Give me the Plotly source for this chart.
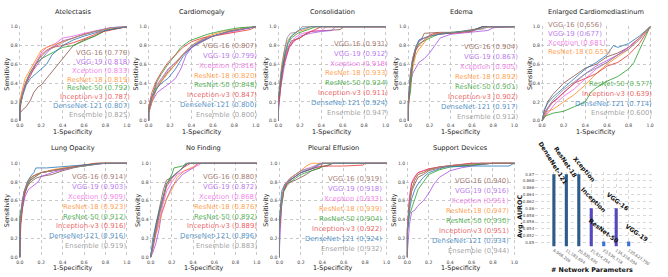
import plotly.graph_objects as go

W, H = 668, 277

MODELS = ["VGG-16", "VGG-19", "Xception", "ResNet-18", "ResNet-50", "Inception-v3", "DenseNet-121", "Ensemble"]
COLORS = ["#8c564b", "#a855e8", "#f062e6", "#ff8a1e", "#2ca02c", "#e8383a", "#2a78b8", "#8a8a8a"]

DISEASES = ["Atelectasis", "Cardiomegaly", "Consolidation", "Edema", "Enlarged Cardiomediastinum",
            "Lung Opacity", "No Finding", "Pleural Effusion", "Support Devices"]

AUC_ATELECTASIS = [0.776, 0.818, 0.833, 0.819, 0.792, 0.787, 0.807, 0.825]
AUC_CARDIOMEGALY = [0.807, 0.799, 0.816, 0.820, 0.848, 0.847, 0.800, 0.800]
AUC_CONSOLIDATION = [0.931, 0.912, 0.918, 0.933, 0.924, 0.911, 0.924, 0.947]
AUC_EDEMA = [0.904, 0.867, 0.905, 0.892, 0.901, 0.902, 0.917, 0.912]
AUC_ENLARGED = [0.656, 0.677, 0.681, 0.655, 0.577, 0.639, 0.714, 0.600]
AUC_LUNG_OPACITY = [0.914, 0.903, 0.909, 0.923, 0.912, 0.916, 0.916, 0.919]
AUC_NO_FINDING = [0.880, 0.872, 0.868, 0.876, 0.892, 0.889, 0.896, 0.883]
AUC_PLEURAL = [0.919, 0.918, 0.933, 0.939, 0.904, 0.922, 0.924, 0.932]
AUC_SUPPORT = [0.940, 0.916, 0.951, 0.947, 0.930, 0.951, 0.934, 0.944]

ROC_ATELECTASIS = {
    "VGG-16": ([0, 0, 0.03, 0.06, 0.1, 0.13, 0.17, 0.2, 0.25, 0.3, 0.35, 0.42, 0.5, 0.6, 0.7, 0.8, 1],
               [0, 0.08, 0.12, 0.15, 0.22, 0.3, 0.36, 0.38, 0.45, 0.52, 0.58, 0.68, 0.8, 0.86, 0.9, 0.96, 1]),
    "VGG-19": ([0, 0, 0.03, 0.06, 0.1, 0.15, 0.2, 0.25, 0.3, 0.4, 0.5, 0.6, 0.75, 0.85, 1],
               [0, 0.15, 0.3, 0.4, 0.5, 0.58, 0.65, 0.72, 0.78, 0.85, 0.88, 0.92, 0.96, 0.99, 1]),
    "Xception": ([0, 0, 0.02, 0.05, 0.1, 0.15, 0.2, 0.25, 0.33, 0.4, 0.5, 0.6, 0.72, 0.85, 1],
                 [0, 0.2, 0.3, 0.4, 0.52, 0.62, 0.72, 0.78, 0.82, 0.88, 0.9, 0.93, 0.96, 0.99, 1]),
    "ResNet-18": ([0, 0, 0.02, 0.05, 0.1, 0.15, 0.2, 0.25, 0.35, 0.45, 0.55, 0.7, 0.85, 1],
                  [0, 0.2, 0.32, 0.45, 0.55, 0.65, 0.75, 0.78, 0.82, 0.86, 0.9, 0.95, 0.98, 1]),
    "ResNet-50": ([0, 0, 0.03, 0.06, 0.1, 0.15, 0.2, 0.3, 0.4, 0.5, 0.6, 0.7, 0.8, 1],
                  [0, 0.18, 0.3, 0.42, 0.52, 0.6, 0.66, 0.72, 0.78, 0.8, 0.85, 0.9, 0.96, 1]),
    "Inception-v3": ([0, 0, 0.02, 0.05, 0.1, 0.15, 0.2, 0.25, 0.3, 0.4, 0.5, 0.6, 0.75, 1],
                     [0, 0.1, 0.25, 0.38, 0.48, 0.6, 0.7, 0.75, 0.78, 0.8, 0.83, 0.87, 0.94, 1]),
    "DenseNet-121": ([0, 0, 0.03, 0.06, 0.1, 0.15, 0.2, 0.25, 0.3, 0.4, 0.5, 0.6, 0.75, 0.9, 1],
                     [0, 0.15, 0.28, 0.38, 0.45, 0.5, 0.55, 0.6, 0.7, 0.8, 0.86, 0.9, 0.95, 0.98, 1]),
    "Ensemble": ([0, 0, 0.03, 0.07, 0.12, 0.18, 0.25, 0.35, 0.45, 0.55, 0.7, 0.85, 1],
                 [0, 0.15, 0.3, 0.45, 0.55, 0.66, 0.74, 0.8, 0.86, 0.9, 0.95, 0.99, 1]),
}

ROC_CARDIOMEGALY = {
    "VGG-16": ([0, 0, 0.03, 0.07, 0.12, 0.18, 0.25, 0.32, 0.4, 0.5, 0.6, 0.75, 0.9, 1],
               [0, 0.1, 0.2, 0.33, 0.42, 0.52, 0.6, 0.7, 0.78, 0.84, 0.9, 0.95, 0.98, 1]),
    "VGG-19": ([0, 0, 0.03, 0.08, 0.15, 0.2, 0.25, 0.3, 0.35, 0.42, 0.5, 0.6, 0.75, 0.9, 1],
               [0, 0.08, 0.2, 0.3, 0.36, 0.4, 0.45, 0.55, 0.7, 0.8, 0.86, 0.9, 0.95, 0.98, 1]),
    "Xception": ([0, 0, 0.03, 0.07, 0.12, 0.18, 0.25, 0.32, 0.4, 0.5, 0.6, 0.75, 0.9, 1],
                 [0, 0.12, 0.25, 0.38, 0.45, 0.55, 0.62, 0.7, 0.78, 0.85, 0.9, 0.94, 0.98, 1]),
    "ResNet-18": ([0, 0, 0.03, 0.07, 0.12, 0.18, 0.25, 0.3, 0.38, 0.45, 0.55, 0.7, 0.85, 1],
                  [0, 0.08, 0.2, 0.35, 0.42, 0.5, 0.6, 0.68, 0.78, 0.84, 0.9, 0.95, 0.98, 1]),
    "ResNet-50": ([0, 0, 0.03, 0.07, 0.12, 0.18, 0.25, 0.3, 0.38, 0.45, 0.55, 0.7, 0.85, 1],
                  [0, 0.12, 0.25, 0.4, 0.5, 0.6, 0.7, 0.78, 0.85, 0.88, 0.92, 0.96, 0.99, 1]),
    "Inception-v3": ([0, 0, 0.03, 0.07, 0.12, 0.18, 0.25, 0.32, 0.4, 0.5, 0.6, 0.7, 0.8, 0.95, 1],
                     [0, 0.15, 0.3, 0.42, 0.52, 0.62, 0.7, 0.78, 0.84, 0.88, 0.9, 0.92, 0.94, 0.97, 1]),
    "DenseNet-121": ([0, 0, 0.03, 0.08, 0.12, 0.18, 0.25, 0.32, 0.4, 0.5, 0.6, 0.75, 0.9, 1],
                     [0, 0.1, 0.25, 0.35, 0.4, 0.45, 0.55, 0.68, 0.78, 0.85, 0.9, 0.95, 0.98, 1]),
    "Ensemble": ([0, 0, 0.03, 0.07, 0.12, 0.18, 0.25, 0.32, 0.4, 0.5, 0.6, 0.75, 0.9, 1],
                 [0, 0.12, 0.24, 0.36, 0.44, 0.54, 0.62, 0.7, 0.8, 0.86, 0.9, 0.95, 0.98, 1]),
}

ROC_CONSOLIDATION = {
    "VGG-16": ([0, 0, 0.02, 0.04, 0.06, 0.08, 0.12, 0.2, 0.25, 0.3, 0.45, 0.58, 0.6, 1],
               [0, 0.2, 0.45, 0.6, 0.68, 0.75, 0.85, 0.88, 0.92, 0.95, 0.96, 0.97, 1, 1]),
    "VGG-19": ([0, 0, 0.02, 0.04, 0.06, 0.1, 0.15, 0.2, 0.3, 0.4, 0.5, 0.53, 1],
               [0, 0.1, 0.35, 0.5, 0.62, 0.78, 0.85, 0.9, 0.93, 0.95, 0.96, 1, 1]),
    "Xception": ([0, 0, 0.02, 0.04, 0.07, 0.1, 0.15, 0.2, 0.3, 0.4, 0.45, 1],
                 [0, 0.15, 0.4, 0.55, 0.7, 0.8, 0.88, 0.92, 0.95, 0.96, 1, 1]),
    "ResNet-18": ([0, 0, 0.02, 0.03, 0.05, 0.08, 0.12, 0.18, 0.25, 0.3, 1],
                  [0, 0.2, 0.45, 0.6, 0.72, 0.85, 0.9, 0.95, 0.97, 1, 1]),
    "ResNet-50": ([0, 0, 0.02, 0.04, 0.06, 0.09, 0.12, 0.18, 0.25, 0.35, 1],
                  [0, 0.2, 0.4, 0.58, 0.7, 0.82, 0.88, 0.93, 0.96, 1, 1]),
    "Inception-v3": ([0, 0, 0.02, 0.04, 0.07, 0.1, 0.14, 0.2, 0.25, 0.33, 0.4, 1],
                     [0, 0.15, 0.35, 0.55, 0.68, 0.78, 0.85, 0.88, 0.92, 0.96, 1, 1]),
    "DenseNet-121": ([0, 0, 0.02, 0.04, 0.06, 0.09, 0.12, 0.2, 0.3, 1],
                     [0, 0.25, 0.45, 0.6, 0.72, 0.84, 0.9, 0.97, 1, 1]),
    "Ensemble": ([0, 0, 0.02, 0.04, 0.06, 0.08, 0.11, 0.16, 0.2, 0.22, 1],
                 [0, 0.25, 0.5, 0.65, 0.78, 0.88, 0.93, 0.94, 0.97, 1, 1]),
}

ROC_EDEMA = {
    "VGG-16": ([0, 0, 0.02, 0.04, 0.07, 0.1, 0.13, 0.15, 0.3, 0.45, 0.6, 0.7, 0.72, 1],
               [0, 0.2, 0.5, 0.65, 0.78, 0.85, 0.88, 0.93, 0.94, 0.94, 0.97, 0.98, 1, 1]),
    "VGG-19": ([0, 0, 0.02, 0.04, 0.07, 0.1, 0.15, 0.2, 0.25, 0.3, 0.4, 0.6, 0.75, 0.8, 1],
               [0, 0.15, 0.4, 0.5, 0.56, 0.62, 0.66, 0.72, 0.8, 0.88, 0.92, 0.94, 0.96, 0.99, 1]),
    "Xception": ([0, 0, 0.02, 0.04, 0.07, 0.1, 0.15, 0.2, 0.3, 0.45, 0.6, 0.7, 1],
                 [0, 0.2, 0.45, 0.62, 0.75, 0.85, 0.88, 0.9, 0.92, 0.94, 0.96, 1, 1]),
    "ResNet-18": ([0, 0, 0.02, 0.04, 0.07, 0.1, 0.13, 0.18, 0.25, 0.4, 0.6, 0.7, 1],
                  [0, 0.1, 0.4, 0.55, 0.7, 0.76, 0.8, 0.88, 0.92, 0.93, 0.96, 1, 1]),
    "ResNet-50": ([0, 0, 0.02, 0.04, 0.07, 0.1, 0.15, 0.2, 0.28, 0.4, 0.6, 0.7, 1],
                  [0, 0.2, 0.3, 0.6, 0.75, 0.82, 0.85, 0.88, 0.92, 0.94, 0.96, 1, 1]),
    "Inception-v3": ([0, 0, 0.02, 0.04, 0.07, 0.1, 0.15, 0.2, 0.25, 0.4, 0.6, 0.7, 1],
                     [0, 0.15, 0.45, 0.62, 0.75, 0.8, 0.86, 0.91, 0.93, 0.93, 0.95, 1, 1]),
    "DenseNet-121": ([0, 0, 0.02, 0.04, 0.07, 0.1, 0.15, 0.2, 0.3, 0.45, 0.6, 0.7, 1],
                     [0, 0.2, 0.5, 0.65, 0.78, 0.86, 0.88, 0.9, 0.92, 0.94, 0.96, 1, 1]),
    "Ensemble": ([0, 0, 0.02, 0.04, 0.07, 0.1, 0.15, 0.2, 0.3, 0.45, 0.6, 0.72, 0.75, 1],
                 [0, 0.2, 0.5, 0.66, 0.78, 0.84, 0.88, 0.9, 0.93, 0.94, 0.96, 0.98, 1, 1]),
}

ROC_ENLARGED = {
    "VGG-16": ([0, 0.02, 0.05, 0.1, 0.15, 0.2, 0.3, 0.4, 0.5, 0.6, 0.7, 0.8, 0.9, 1],
               [0, 0.1, 0.2, 0.28, 0.34, 0.4, 0.48, 0.56, 0.6, 0.68, 0.72, 0.78, 0.88, 1]),
    "VGG-19": ([0, 0.02, 0.05, 0.1, 0.2, 0.3, 0.4, 0.5, 0.6, 0.7, 0.8, 0.9, 1],
               [0, 0.05, 0.12, 0.2, 0.3, 0.4, 0.5, 0.58, 0.64, 0.7, 0.78, 0.88, 1]),
    "Xception": ([0, 0.03, 0.08, 0.12, 0.2, 0.3, 0.4, 0.5, 0.6, 0.7, 0.8, 0.9, 1],
                 [0, 0.05, 0.12, 0.18, 0.26, 0.34, 0.45, 0.55, 0.62, 0.7, 0.78, 0.88, 1]),
    "ResNet-18": ([0, 0.03, 0.05, 0.1, 0.2, 0.3, 0.4, 0.5, 0.6, 0.7, 0.8, 0.9, 1],
                  [0, 0.05, 0.1, 0.12, 0.2, 0.28, 0.38, 0.5, 0.6, 0.68, 0.76, 0.88, 1]),
    "ResNet-50": ([0, 0.03, 0.1, 0.2, 0.3, 0.4, 0.45, 0.5, 0.6, 0.7, 0.8, 0.85, 0.9, 1],
                  [0, 0.05, 0.08, 0.1, 0.15, 0.2, 0.3, 0.35, 0.42, 0.47, 0.55, 0.62, 0.75, 1]),
    "Inception-v3": ([0, 0.03, 0.08, 0.15, 0.2, 0.3, 0.4, 0.5, 0.6, 0.7, 0.8, 0.9, 1],
                     [0, 0.1, 0.18, 0.24, 0.3, 0.4, 0.45, 0.5, 0.58, 0.62, 0.7, 0.82, 1]),
    "DenseNet-121": ([0, 0.02, 0.06, 0.1, 0.2, 0.3, 0.4, 0.5, 0.6, 0.66, 0.7, 0.8, 0.9, 1],
                     [0, 0.12, 0.2, 0.25, 0.35, 0.45, 0.55, 0.62, 0.7, 0.8, 0.78, 0.82, 0.9, 1]),
    "Ensemble": ([0, 0.02, 0.06, 0.1, 0.2, 0.3, 0.4, 0.5, 0.6, 0.7, 0.8, 0.9, 1],
                 [0, 0.08, 0.15, 0.22, 0.33, 0.42, 0.5, 0.56, 0.62, 0.7, 0.76, 0.86, 1]),
}

ROC_LUNG_OPACITY = {
    "VGG-16": ([0, 0, 0.02, 0.04, 0.07, 0.1, 0.15, 0.2, 0.3, 0.4, 0.5, 0.6, 0.72, 1],
               [0, 0.3, 0.5, 0.65, 0.75, 0.8, 0.84, 0.86, 0.88, 0.92, 0.95, 0.98, 1, 1]),
    "VGG-19": ([0, 0, 0.02, 0.05, 0.08, 0.12, 0.17, 0.2, 0.3, 0.4, 0.5, 0.65, 0.8, 1],
               [0, 0.3, 0.5, 0.65, 0.72, 0.76, 0.8, 0.86, 0.9, 0.93, 0.96, 0.98, 1, 1]),
    "Xception": ([0, 0, 0.02, 0.04, 0.07, 0.1, 0.15, 0.2, 0.3, 0.45, 0.6, 0.75, 1],
                 [0, 0.35, 0.6, 0.7, 0.78, 0.82, 0.86, 0.9, 0.92, 0.95, 0.97, 1, 1]),
    "ResNet-18": ([0, 0, 0.02, 0.04, 0.07, 0.1, 0.15, 0.2, 0.3, 0.45, 0.6, 0.7, 1],
                  [0, 0.3, 0.52, 0.68, 0.8, 0.85, 0.88, 0.9, 0.93, 0.96, 0.98, 1, 1]),
    "ResNet-50": ([0, 0, 0.02, 0.04, 0.07, 0.1, 0.15, 0.2, 0.3, 0.45, 0.6, 0.75, 1],
                  [0, 0.45, 0.55, 0.68, 0.76, 0.82, 0.86, 0.9, 0.92, 0.95, 0.97, 1, 1]),
    "Inception-v3": ([0, 0, 0.01, 0.03, 0.05, 0.08, 0.12, 0.2, 0.3, 0.45, 0.6, 0.75, 1],
                     [0, 0.1, 0.35, 0.58, 0.7, 0.8, 0.86, 0.9, 0.92, 0.95, 0.98, 1, 1]),
    "DenseNet-121": ([0, 0, 0.02, 0.04, 0.07, 0.1, 0.13, 0.15, 0.25, 0.35, 0.5, 0.65, 0.8, 1],
                     [0, 0.35, 0.55, 0.7, 0.8, 0.86, 0.9, 0.95, 0.95, 0.96, 0.97, 0.99, 1, 1]),
    "Ensemble": ([0, 0, 0.02, 0.04, 0.07, 0.1, 0.15, 0.2, 0.3, 0.45, 0.6, 0.8, 1],
                 [0, 0.35, 0.55, 0.7, 0.78, 0.84, 0.88, 0.9, 0.92, 0.95, 0.97, 1, 1]),
}

ROC_NO_FINDING = {
    "VGG-16": ([0, 0.02, 0.05, 0.08, 0.12, 0.15, 0.2, 0.25, 0.3, 0.35, 1],
               [0, 0.12, 0.35, 0.52, 0.72, 0.82, 0.85, 0.9, 0.95, 1, 1]),
    "VGG-19": ([0, 0.02, 0.05, 0.08, 0.1, 0.15, 0.2, 0.25, 0.3, 0.4, 0.45, 1],
               [0, 0.05, 0.15, 0.3, 0.45, 0.62, 0.75, 0.82, 0.88, 0.95, 1, 1]),
    "Xception": ([0, 0.02, 0.05, 0.08, 0.12, 0.15, 0.2, 0.25, 0.32, 0.4, 0.48, 1],
                 [0, 0.08, 0.25, 0.4, 0.58, 0.7, 0.8, 0.88, 0.92, 0.95, 1, 1]),
    "ResNet-18": ([0, 0.02, 0.05, 0.08, 0.1, 0.15, 0.2, 0.25, 0.32, 0.4, 0.45, 1],
                  [0, 0.1, 0.25, 0.35, 0.45, 0.62, 0.72, 0.85, 0.92, 0.96, 1, 1]),
    "ResNet-50": ([0, 0.02, 0.05, 0.08, 0.12, 0.15, 0.2, 0.22, 0.3, 0.35, 1],
                  [0, 0.12, 0.3, 0.48, 0.65, 0.78, 0.88, 0.95, 0.97, 1, 1]),
    "Inception-v3": ([0, 0.02, 0.05, 0.08, 0.12, 0.15, 0.2, 0.25, 0.3, 0.38, 1],
                     [0, 0.1, 0.28, 0.45, 0.62, 0.75, 0.84, 0.9, 0.95, 1, 1]),
    "DenseNet-121": ([0, 0.02, 0.05, 0.08, 0.12, 0.15, 0.2, 0.25, 0.3, 0.35, 1],
                     [0, 0.2, 0.35, 0.48, 0.65, 0.78, 0.85, 0.9, 0.96, 1, 1]),
    "Ensemble": ([0, 0.02, 0.05, 0.08, 0.12, 0.15, 0.2, 0.25, 0.3, 0.33, 1],
                 [0, 0.1, 0.3, 0.45, 0.65, 0.78, 0.85, 0.9, 0.95, 1, 1]),
}

ROC_PLEURAL = {
    "VGG-16": ([0, 0, 0.02, 0.04, 0.07, 0.1, 0.15, 0.2, 0.25, 0.3, 0.38, 0.4, 1],
               [0, 0.4, 0.62, 0.72, 0.78, 0.8, 0.82, 0.85, 0.88, 0.92, 0.95, 1, 1]),
    "VGG-19": ([0, 0, 0.02, 0.04, 0.07, 0.1, 0.15, 0.2, 0.3, 0.35, 0.45, 0.5, 1],
               [0, 0.1, 0.55, 0.7, 0.78, 0.82, 0.86, 0.9, 0.94, 0.96, 0.97, 1, 1]),
    "Xception": ([0, 0, 0.02, 0.04, 0.07, 0.1, 0.15, 0.2, 0.3, 0.4, 1],
                 [0, 0.3, 0.6, 0.72, 0.8, 0.84, 0.88, 0.92, 0.96, 1, 1]),
    "ResNet-18": ([0, 0, 0.02, 0.04, 0.07, 0.1, 0.15, 0.2, 0.25, 0.3, 1],
                  [0, 0.35, 0.6, 0.75, 0.8, 0.84, 0.88, 0.92, 0.97, 1, 1]),
    "ResNet-50": ([0, 0, 0.02, 0.04, 0.07, 0.1, 0.15, 0.2, 0.3, 0.4, 0.5, 1],
                  [0, 0.3, 0.55, 0.7, 0.76, 0.8, 0.84, 0.88, 0.92, 0.96, 1, 1]),
    "Inception-v3": ([0, 0, 0.02, 0.04, 0.07, 0.1, 0.15, 0.2, 0.3, 0.4, 0.6, 0.78, 0.8, 1],
                     [0, 0.3, 0.6, 0.72, 0.78, 0.82, 0.86, 0.9, 0.94, 0.97, 0.97, 0.98, 1, 1]),
    "DenseNet-121": ([0, 0, 0.02, 0.05, 0.07, 0.1, 0.15, 0.2, 0.3, 0.4, 1],
                     [0, 0.4, 0.7, 0.78, 0.8, 0.82, 0.86, 0.9, 0.94, 1, 1]),
    "Ensemble": ([0, 0, 0.02, 0.04, 0.07, 0.1, 0.15, 0.2, 0.3, 0.38, 1],
                 [0, 0.35, 0.6, 0.74, 0.8, 0.84, 0.88, 0.92, 0.95, 1, 1]),
}

ROC_SUPPORT = {
    "VGG-16": ([0, 0, 0.02, 0.04, 0.07, 0.1, 0.15, 0.2, 0.3, 0.4, 0.6, 0.8, 1],
               [0, 0.3, 0.55, 0.7, 0.78, 0.85, 0.88, 0.92, 0.95, 0.97, 0.98, 1, 1]),
    "VGG-19": ([0, 0, 0.02, 0.04, 0.07, 0.1, 0.15, 0.2, 0.25, 0.3, 0.4, 0.5, 0.65, 0.8, 1],
               [0, 0.05, 0.35, 0.48, 0.5, 0.55, 0.6, 0.68, 0.78, 0.85, 0.92, 0.95, 0.98, 1, 1]),
    "Xception": ([0, 0, 0.02, 0.04, 0.07, 0.1, 0.15, 0.2, 0.3, 0.45, 0.6, 1],
                 [0, 0.3, 0.65, 0.8, 0.86, 0.9, 0.92, 0.94, 0.96, 0.98, 1, 1]),
    "ResNet-18": ([0, 0, 0.02, 0.04, 0.07, 0.1, 0.15, 0.2, 0.3, 0.45, 0.7, 1],
                  [0, 0.3, 0.6, 0.72, 0.82, 0.88, 0.9, 0.93, 0.96, 0.98, 1, 1]),
    "ResNet-50": ([0, 0, 0.02, 0.05, 0.08, 0.1, 0.15, 0.2, 0.3, 0.4, 0.6, 0.8, 1],
                  [0, 0.25, 0.45, 0.55, 0.65, 0.72, 0.8, 0.88, 0.93, 0.96, 0.98, 1, 1]),
    "Inception-v3": ([0, 0, 0.02, 0.04, 0.07, 0.1, 0.15, 0.2, 0.3, 0.45, 0.6, 1],
                     [0, 0.3, 0.62, 0.78, 0.85, 0.9, 0.92, 0.94, 0.96, 0.98, 1, 1]),
    "DenseNet-121": ([0, 0, 0.02, 0.04, 0.07, 0.1, 0.15, 0.2, 0.35, 0.6, 0.95, 1],
                     [0, 0.25, 0.5, 0.62, 0.72, 0.78, 0.85, 0.9, 0.96, 0.97, 0.97, 1]),
    "Ensemble": ([0, 0, 0.02, 0.04, 0.07, 0.1, 0.15, 0.2, 0.3, 0.45, 0.7, 1],
                 [0, 0.3, 0.58, 0.72, 0.82, 0.88, 0.9, 0.93, 0.96, 0.98, 1, 1]),
}

BAR_MODELS = ["DenseNet-121", "ResNet-18", "Xception", "Inception", "ResNet-50", "VGG-16", "VGG-19"]
BAR_PARAMS = ["6,968,206", "11,183,694", "20,835,630", "21,814,254", "23,536,718", "134,318,094", "139,627,790"]
BAR_AUROC = [0.870, 0.870, 0.870, 0.860, 0.8503, 0.860, 0.8503]
BAR_COLORS = ["#2d5b8c", "#2d5b8c", "#2d5b8c", "#5448bd", "#3c6fd3", "#5448bd", "#3c6fd3"]

TICK_VALS = [0, 0.2, 0.4, 0.6, 0.8, 1.0]
TICK_TEXT = ["0.0", "0.2", "0.4", "0.6", "0.8", "1.0"]
BAR_TICKS = [0.85, 0.852, 0.854, 0.856, 0.858, 0.86, 0.862, 0.864, 0.866, 0.868, 0.87]

# panel layout: (roc, auc, x0px, x1px, y0px(0.0), y1px(1.0), legend spec)
PANELS = [
    (ROC_ATELECTASIS, AUC_ATELECTASIS, 17, 125, 121, 26, (1.046, 0.716, 0.063)),
    (ROC_CARDIOMEGALY, AUC_CARDIOMEGALY, 147, 255, 121, 26, (1.03, 0.79, 0.063)),
    (ROC_CONSOLIDATION, AUC_CONSOLIDATION, 278, 386, 121, 26, (1.04, 0.82, 0.08)),
    (ROC_EDEMA, AUC_EDEMA, 409, 516, 121, 26, (1.05, 0.78, 0.04)),
    (ROC_ENLARGED, AUC_ENLARGED, 544, 653, 121, 26, None),
    (ROC_LUNG_OPACITY, AUC_LUNG_OPACITY, 17, 125, 259, 164, (1.01, 0.85, 0.12)),
    (ROC_NO_FINDING, AUC_NO_FINDING, 149, 256, 259, 164, (1.02, 0.85, 0.12)),
    (ROC_PLEURAL, AUC_PLEURAL, 279, 387, 259, 164, (0.98, 0.83, 0.09)),
    (ROC_SUPPORT, AUC_SUPPORT, 408, 516, 259, 164, (0.97, 0.81, 0.07)),
]

FONT = "DejaVu Sans"
TEXT_ALPHA = 0.8


def rgba(hexc, a):
    h = hexc.lstrip("#")
    return "rgba(%d,%d,%d,%.2f)" % (int(h[0:2], 16), int(h[2:4], 16), int(h[4:6], 16), a)


fig = go.Figure()
layout = dict(width=W, height=H, margin=dict(l=0, r=0, t=0, b=0), autosize=False,
              paper_bgcolor="white", plot_bgcolor="white", showlegend=False,
              font=dict(family=FONT, color="#333"))
annotations = []
PAD = 0.01


def legend_text(px, py, text, col, anchor):
    annotations.append(dict(text=text, x=px / W, y=1 - py / H, xref="paper", yref="paper",
                            showarrow=False, xanchor=anchor, yanchor="middle",
                            font=dict(size=6.9, color=rgba(col, TEXT_ALPHA), family=FONT)))


for i, (roc, auc, x0, x1, y0, y1, leg) in enumerate(PANELS):
    k = i + 1
    ax = "" if k == 1 else str(k)
    xs = x1 - x0
    ys = y0 - y1
    xd = [(x0 - PAD * xs) / W, (x1 + PAD * xs) / W]
    yd = [1 - (y0 + PAD * ys) / H, 1 - (y1 - PAD * ys) / H]
    axstyle = dict(range=[-PAD, 1 + PAD], tickvals=TICK_VALS, ticktext=TICK_TEXT,
                   showgrid=True, gridcolor="#c8c8c8", griddash="dot", gridwidth=0.6,
                   zeroline=False, showline=False, ticks="",
                   tickfont=dict(size=4.6, color="#444", family=FONT))
    layout["xaxis" + ax] = dict(domain=xd, anchor="y" + ax, **axstyle)
    layout["yaxis" + ax] = dict(domain=yd, anchor="x" + ax, **axstyle)
    for m, col in zip(MODELS, COLORS):
        fx, fy = roc[m]
        fig.add_trace(go.Scatter(x=fx, y=fy, mode="lines", line=dict(color=col, width=0.9),
                                 opacity=0.9, xaxis="x" + ax, yaxis="y" + ax,
                                 hoverinfo="skip"))
    cx = (x0 + x1) / 2 / W
    annotations.append(dict(text=DISEASES[i], x=cx, y=1 - (y1 - 15) / H, xref="paper", yref="paper",
                            showarrow=False, font=dict(size=6.6, color="#222", family=FONT),
                            xanchor="center", yanchor="middle"))
    annotations.append(dict(text="1-Specificity", x=cx, y=1 - (y0 + 11) / H, xref="paper", yref="paper",
                            showarrow=False, font=dict(size=6.4, color="#222", family=FONT),
                            xanchor="center", yanchor="middle"))
    annotations.append(dict(text="Sensitivity", x=(x0 - 13) / W, y=1 - (y0 + y1) / 2 / H,
                            xref="paper", yref="paper", textangle=-90, showarrow=False,
                            font=dict(size=6.4, color="#222", family=FONT),
                            xanchor="center", yanchor="middle"))

    def to_px(vx, vy):
        return x0 + vx * xs, y0 - vy * ys

    if leg is not None:
        rx, top, bot = leg
        step = (top - bot) / 7
        for j, (m, col) in enumerate(zip(MODELS, COLORS)):
            px, py = to_px(rx, top - j * step)
            legend_text(px, py, "%s (%.3f)" % (m, auc[j]), col, "right")
    else:
        top_y = [1.02, 0.925, 0.83, 0.735]
        bot_y = [0.39, 0.285, 0.18, 0.08]
        for j, (m, col) in enumerate(zip(MODELS, COLORS)):
            if j < 4:
                px, py = to_px(0.035, top_y[j])
                legend_text(px, py, "%s (%.3f)" % (m, auc[j]), col, "left")
            else:
                px, py = to_px(1.04, bot_y[j - 4])
                legend_text(px, py, "%s (%.3f)" % (m, auc[j]), col, "right")

# bar chart
bx0, bx1 = 537, 655
by_top, by_bot = 173.3, 248
fig.add_trace(go.Bar(x=BAR_PARAMS, y=BAR_AUROC, marker=dict(color=BAR_COLORS, line=dict(width=0)),
                     width=0.25, xaxis="x10", yaxis="y10", hoverinfo="skip"))
layout["xaxis10"] = dict(domain=[bx0 / W, bx1 / W], anchor="y10", type="category",
                         showgrid=True, gridcolor="#d8d8d8", griddash="dot", gridwidth=0.6,
                         zeroline=False, showline=False, ticks="", tickangle=35,
                         tickfont=dict(size=4, color="#555", family=FONT))
layout["yaxis10"] = dict(domain=[1 - by_bot / H, 1 - by_top / H], anchor="x10",
                         range=[0.8489, 0.8705], tickvals=BAR_TICKS,
                         ticktext=[("%.3f" % v).rstrip("0") for v in BAR_TICKS],
                         showgrid=True, gridcolor="#d8d8d8", griddash="dot", gridwidth=0.6,
                         zeroline=False, showline=False, ticks="",
                         tickfont=dict(size=4, color="#444", family=FONT))

BAR_LABEL_ANGLE = [58, 56, 50, 45, 38, 37, 35]
BAR_LABEL_SHIFT = [(0, 11), (0, 12), (5, 5), (2, 8), (0, 11), (2, 7), (8, 9)]
for j, name in enumerate(BAR_MODELS):
    dx, dy = BAR_LABEL_SHIFT[j]
    annotations.append(dict(text="<b>%s</b>" % name, x=BAR_PARAMS[j], y=BAR_AUROC[j],
                            xref="x10", yref="y10", showarrow=False, textangle=BAR_LABEL_ANGLE[j],
                            xanchor="center", yanchor="middle", xshift=dx, yshift=dy,
                            font=dict(size=6.1, color="#111", family=FONT)))
annotations.append(dict(text="<b>Avg. AUROC</b>", x=521 / W, y=1 - 218 / H, xref="paper", yref="paper",
                        textangle=-90, showarrow=False, font=dict(size=6.4, color="#111", family=FONT),
                        xanchor="center", yanchor="middle"))
annotations.append(dict(text="<b># Network Parameters</b>", x=594 / W, y=1 - 272 / H, xref="paper",
                        yref="paper", showarrow=False, font=dict(size=6.4, color="#111", family=FONT),
                        xanchor="center", yanchor="middle"))

layout["annotations"] = annotations
fig.update_layout(**layout)
fig.write_html("out.html", config={"displayModeBar": False},
               post_script="document.body.style.margin='0px';document.body.style.padding='0px';")
